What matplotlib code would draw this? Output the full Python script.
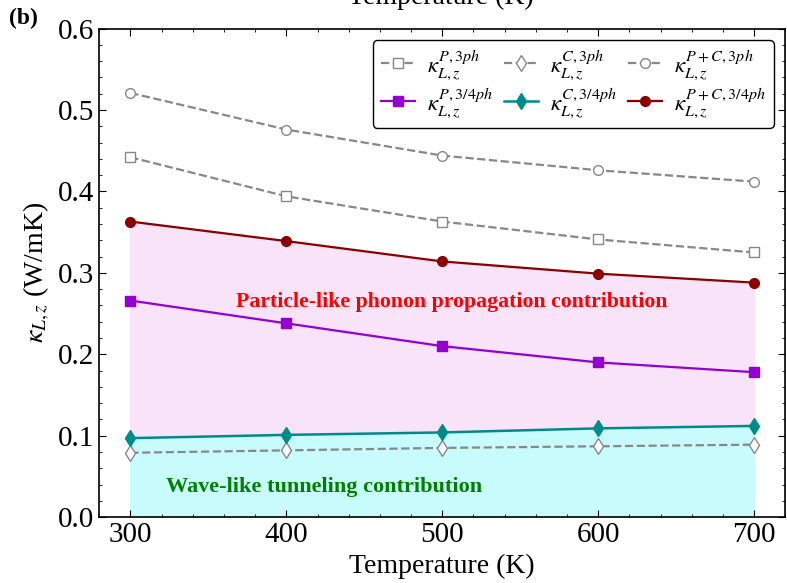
import numpy as np
import matplotlib
matplotlib.use('Agg')
import matplotlib.pyplot as plt
from matplotlib.ticker import MultipleLocator, FormatStrFormatter

# data
temperature = [300, 400, 500, 600, 700]
kP_3ph = [0.442, 0.394, 0.363, 0.341, 0.325]
kC_3ph = [0.079, 0.082, 0.085, 0.087, 0.089]
kPC_3ph = [0.521, 0.476, 0.444, 0.426, 0.412]
kP_34ph = [0.266, 0.238, 0.210, 0.190, 0.178]
kC_34ph = [0.097, 0.101, 0.104, 0.109, 0.112]
kPC_34ph = [0.363, 0.339, 0.314, 0.299, 0.288]

plt.rcParams['font.family'] = ['Liberation Serif', 'DejaVu Serif']
plt.rcParams['mathtext.fontset'] = 'stix'

fig = plt.figure(figsize=(7.87, 5.83), dpi=100)
ax = fig.add_axes([0.126, 0.113, 0.872, 0.838])

T = np.array(temperature)

# shaded regions
ax.fill_between(T, 0, kC_34ph, color='#c8fbfb', zorder=1)
ax.fill_between(T, kC_34ph, kPC_34ph, color='#f8e3f8', zorder=1)

gray = '#888888'
l1, = ax.plot(T, kP_3ph, '--', color=gray, lw=1.6, marker='s', ms=7,
              mfc='white', mec=gray, label=r'$\kappa_{L,z}^{P,3ph}$', zorder=3)
l2, = ax.plot(T, kC_3ph, '--', color=gray, lw=1.6, marker='d', ms=8,
              mfc='white', mec=gray, label=r'$\kappa_{L,z}^{C,3ph}$', zorder=3)
l3, = ax.plot(T, kPC_3ph, '--', color=gray, lw=1.6, marker='o', ms=7,
              mfc='white', mec=gray, label=r'$\kappa_{L,z}^{P+C,3ph}$', zorder=3)
l4, = ax.plot(T, kP_34ph, '-', color='#9400d3', lw=1.6, marker='s', ms=7,
              label=r'$\kappa_{L,z}^{P,3/4ph}$', zorder=4)
l5, = ax.plot(T, kC_34ph, '-', color='#008b8b', lw=1.8, marker='d', ms=8,
              label=r'$\kappa_{L,z}^{C,3/4ph}$', zorder=4)
l6, = ax.plot(T, kPC_34ph, '-', color='#8b0000', lw=1.6, marker='o', ms=7,
              label=r'$\kappa_{L,z}^{P+C,3/4ph}$', zorder=4)

ax.text(506, 0.264, 'Particle-like phonon propagation contribution',
        color='red', fontweight='bold', fontsize=15.7, ha='center', va='center', zorder=5)
ax.text(424, 0.037, 'Wave-like tunneling contribution',
        color='green', fontweight='bold', fontsize=16, ha='center', va='center', zorder=5)

ax.set_xlim(280, 720)
ax.set_ylim(0, 0.6)
ax.xaxis.set_major_locator(MultipleLocator(100))
ax.xaxis.set_minor_locator(MultipleLocator(20))
ax.yaxis.set_major_locator(MultipleLocator(0.1))
ax.yaxis.set_minor_locator(MultipleLocator(0.02))
ax.yaxis.set_major_formatter(FormatStrFormatter('%.1f'))
ax.tick_params(which='both', direction='in', top=True, right=True, labelsize=21)
ax.tick_params(which='major', length=5)
ax.tick_params(which='minor', length=2.5)
for s in ax.spines.values():
    s.set_linewidth(1.2)

ax.set_xlabel('Temperature (K)', fontsize=20)
ax.set_ylabel(r'$\kappa_{L,z}$ (W/mK)', fontsize=20)

# column-major order so rows read 3ph / 3/4ph
handles = [l1, l4, l2, l5, l3, l6]
leg = ax.legend(handles=handles, labels=[h.get_label() for h in handles],
                loc='upper right', ncol=3, fontsize=16.5, frameon=True,
                fancybox=True, edgecolor='black', framealpha=1,
                handlelength=1.5, columnspacing=0.5, handletextpad=0.5,
                labelspacing=0.2, borderpad=0.35)
leg.get_frame().set_linewidth(1.0)

fig.text(0.012, 0.968, '(b)', fontsize=17, fontweight='bold', ha='left', va='center')
# x label of the panel above, cut off at the top edge as in the original
fig.text(0.56, 1.005, 'Temperature (K)', fontsize=20, ha='center', va='center')

fig.savefig('out.png', dpi=100)
